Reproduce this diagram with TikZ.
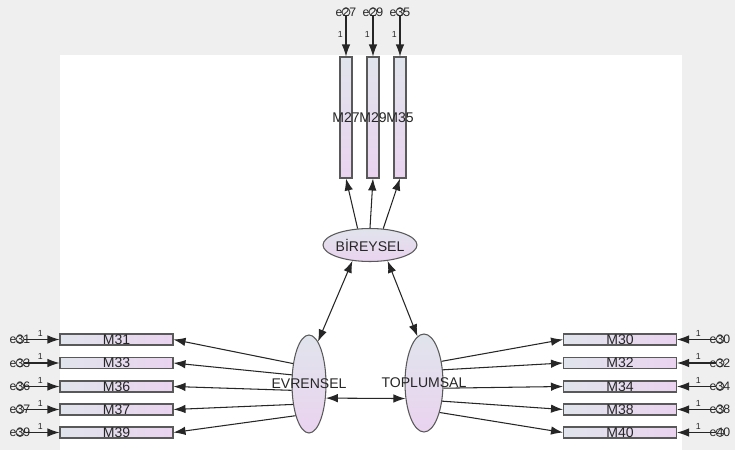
\documentclass[tikz,border=0pt]{standalone}
\usepackage{fontspec}
\setmainfont{Liberation Sans}
\usepackage{tikz}
\usetikzlibrary{positioning,calc,arrows.meta,shapes.geometric,shadings}

\definecolor{bgray}{HTML}{EFEFEF}
\definecolor{indL}{HTML}{E0E4EC}
\definecolor{indR}{HTML}{EAD3EF}

\begin{document}
\begin{tikzpicture}
  [
    x=0.02cm, y=-0.02cm,
    >={Latex[length=2.4mm,width=1.7mm]},
    lbl/.style  = {font=\fontsize{8}{9}\selectfont, text=black!85, inner sep=0pt},
    elbl/.style = {font=\fontsize{7}{8}\selectfont, text=black!85, inner sep=0pt},
    ind/.style  = {draw=black!65, line width=.6pt, left color=indL, right color=indR,
                   minimum width=2.26cm, minimum height=.22cm, inner sep=0pt, lbl},
    indv/.style = {draw=black!65, line width=.6pt, top color=indL, bottom color=indR,
                   minimum width=.24cm, minimum height=2.42cm, inner sep=0pt},
    lat/.style  = {ellipse, draw=black!65, line width=.6pt, top color=indL,
                   bottom color=indR, inner sep=0pt},
    err/.style  = {circle, draw=black!75, line width=.5pt, minimum size=.16cm, inner sep=0pt},
    one/.style  = {font=\fontsize{5}{5}\selectfont, inner sep=1.5pt},
    reg/.style  = {->, line width=.6pt, black!85},
  ]

  % background and white sheet
  \useasboundingbox (0,0) rectangle (735,450);
  \fill[bgray] (0,0) rectangle (735,450);
  \fill[white] (60,55) rectangle (682,450);

  % latent variables
  \node (bir) at (370,245) [lat, minimum width=1.88cm, minimum height=.66cm,
    label={[lbl]center:BİREYSEL}] {};
  \node (evr) at (309,384) [lat, minimum width=.68cm, minimum height=1.96cm,
    label={[lbl]center:EVRENSEL}] {};
  \node (topl) at (424,383) [lat, minimum width=.76cm, minimum height=1.96cm,
    label={[lbl]center:TOPLUMSAL}] {};

  % covariances
  \draw[reg, <->] (bir.-138) -- (evr.78);
  \draw[reg, <->] (bir.-42) -- (topl.98);
  \draw[reg, <->] (evr.-40) -- (topl.-140);

  % BIREYSEL items, standing upright
  \foreach \n/\xx/\a in {27/346/127, 29/373/90, 35/400/51}
    {
      \node (m\n) at (\xx,117.5) [indv, label={[lbl]center:M\n}] {};
      \node (e\n) at (\xx,12) [err, label={[elbl]center:e\n}] {};
      \draw[reg] (e\n) -- node[one, left, pos=.45] {1} (m\n);
      \draw[reg] (bir.\a) -- (m\n.south);
    }

  % EVRENSEL items, on the left
  \foreach \n/\yy/\a in {31/339.5/128, 33/363/152, 36/386.5/200, 37/409.5/232, 39/432.5/247}
    {
      \node (m\n) at (116.5,\yy) [ind] {M\n};
      \node (e\n) at (20,\yy) [err, label={[elbl]center:e\n}] {};
      \draw[reg] (e\n) -- node[one, above, pos=.45] {1} (m\n);
      \draw[reg] (evr.\a) -- (m\n.east);
    }

  % TOPLUMSAL items, on the right
  \foreach \n/\yy/\a in {30/339.5/51, 32/363/35, 34/386.5/-15, 38/409.5/-45, 40/432.5/-62}
    {
      \node (m\n) at (620,\yy) [ind] {M\n};
      \node (e\n) at (720,\yy) [err, label={[elbl]center:e\n}] {};
      \draw[reg] (e\n) -- node[one, above, pos=.45] {1} (m\n);
      \draw[reg] (topl.\a) -- (m\n.west);
    }
\end{tikzpicture}
\end{document}
